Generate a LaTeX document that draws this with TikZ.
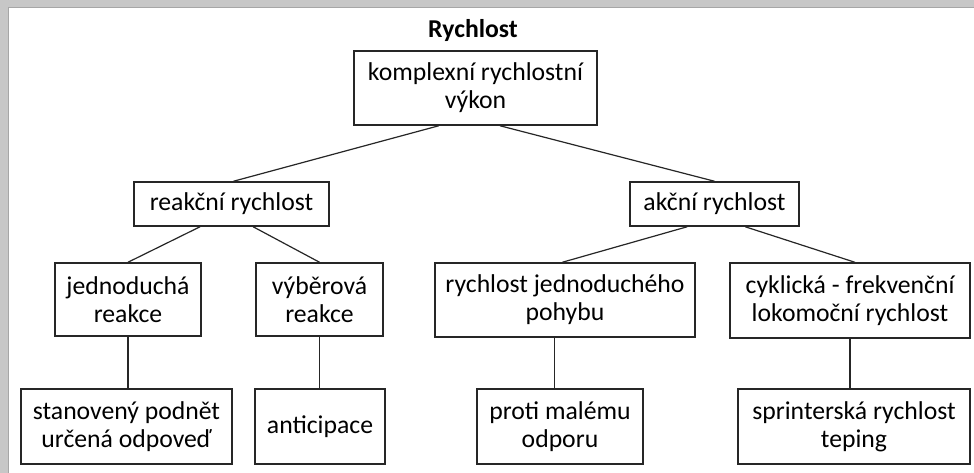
\documentclass[tikz,border=0pt]{standalone}
\usepackage{fontspec}
\setmainfont{Carlito}
\usetikzlibrary{calc}

\begin{document}
\begin{tikzpicture}[x=1pt, y=-1pt,
        box/.style={draw=black!85, line width=1.5pt, rectangle, inner sep=0pt, align=center, font=\fontsize{25.7}{28}\selectfont},
        link/.style={draw=black!85, line width=1.2pt}
    ]
    \useasboundingbox (0,0) rectangle (974,473);

    % Frame with shadow
    \fill[black!22] (0,0) rectangle (974,473);
    \fill[white] (8,7) rectangle (974,473);
    \draw[black!35, line width=1.5pt] (8.5,473) -- (8.5,7.5) -- (974,7.5);

    % Title
    \node[font=\fontsize{25.7}{28}\selectfont\bfseries] (title) at (473,31) {Rychlost};

    % Root block
    \node[box, minimum width=243pt, minimum height=74pt] (root) at (475.5,88) {komplexní rychlostní\\výkon};

    % Second level
    \node[box, minimum width=195pt, minimum height=44pt] (reakce) at (231.5,204) {reakční rychlost};
    \node[box, minimum width=169pt, minimum height=44pt] (akce) at (714.5,204) {akční rychlost};

    % Third level
    \node[box, minimum width=146pt, minimum height=73pt] (jedno) at (128,299.5) {jednoduchá\\reakce};
    \node[box, minimum width=127pt, minimum height=73pt] (vyber) at (319.5,299.5) {výběrová\\reakce};
    \node[box, minimum width=260pt, minimum height=74pt] (pohyb) at (565,300) {rychlost jednoduchého\\pohybu};
    \node[box, minimum width=240pt, minimum height=75pt] (cykl) at (850,300.5) {cyklická - frekvenční\\lokomoční rychlost};

    % Fourth level
    \node[box, minimum width=211pt, minimum height=75pt] (stan) at (126.5,426.5) {stanovený podnět\\určená odpoveď};
    \node[box, minimum width=130pt, minimum height=75pt] (antic) at (320,426.5) {anticipace};
    \node[box, minimum width=166pt, minimum height=75pt] (proti) at (560,426.5) {proti malému\\odporu};
    \node[box, minimum width=232pt, minimum height=75pt] (sprint) at (854,426.5) {sprinterská rychlost\\teping};

    % Connectors
    \draw[link] ($(root.south west)!.35!(root.south east)$) -- ($(reakce.north west)!.51!(reakce.north east)$);
    \draw[link] ($(root.south west)!.6!(root.south east)$) -- (akce.north);
    \draw[link] ($(reakce.south west)!.34!(reakce.south east)$) -- (jedno.north);
    \draw[link] ($(reakce.south west)!.61!(reakce.south east)$) -- (vyber.north);
    \draw[link] ($(akce.south west)!.34!(akce.south east)$) -- ($(pohyb.north west)!.49!(pohyb.north east)$);
    \draw[link] ($(akce.south west)!.68!(akce.south east)$) -- ($(cykl.north west)!.52!(cykl.north east)$);
    \draw[link] (jedno.south) -- (jedno.south |- stan.north);
    \draw[link] (vyber.south) -- (vyber.south |- antic.north);
    \coordinate (p) at ($(pohyb.south west)!.46!(pohyb.south east)$);
    \draw[link] (p) -- (p |- proti.north);
    \draw[link] (cykl.south) -- (cykl.south |- sprint.north);

\end{tikzpicture}
\end{document}
